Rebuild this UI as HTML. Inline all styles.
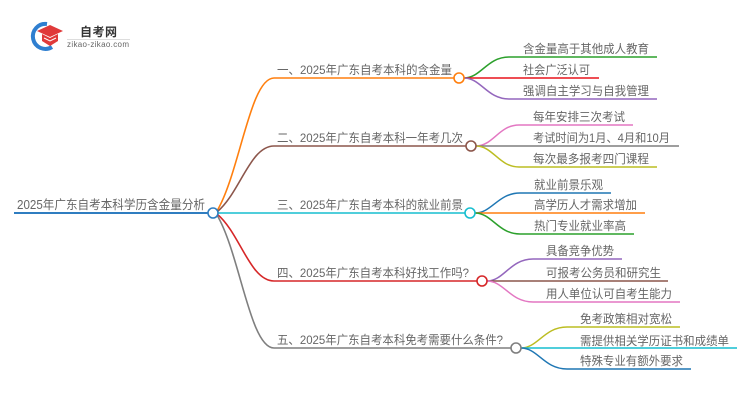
<!DOCTYPE html>
<html>
<head>
<meta charset="utf-8">
<style>
html,body{margin:0;padding:0;background:#fff;}
svg{display:block;}
text{font-family:"Liberation Sans","Noto Sans CJK SC",sans-serif;fill:#666;}
</style>
</head>
<body>
<svg width="750" height="410" viewBox="0 0 750 410" xmlns="http://www.w3.org/2000/svg">
  <!-- logo -->
  <path d="M47,24 A12.5,12.5 0 1 0 52,47" fill="none" stroke="#2f7fd0" stroke-width="4"/>
  <path d="M37,31 L50,25 L63,31 L50,37 Z" fill="#e03a3a"/>
  <path d="M42,34 L50,38 L58,34 L58,41 L50,46 L42,41 Z" fill="#e03a3a"/>
  <path d="M44,38 L50,41 L56,38" fill="none" stroke="#fff" stroke-width="1"/>
  <text x="80" y="36" style="font-size:12px;font-weight:bold;fill:#333;" textLength="37">自考网</text>
  <line x1="67" y1="39.5" x2="130" y2="39.5" stroke="#ddd" stroke-width="1"/>
  <text x="67" y="47" style="font-size:8px;fill:#666;" textLength="62">zikao-zikao.com</text>

  <!-- root underline -->
  <line x1="14" y1="213" x2="208" y2="213" stroke="#2f7dc0" stroke-width="2"/>

  <!-- main branches -->
  <path d="M217,211 C240,172 250,78 274,78 L454,78" fill="none" stroke="#ff7f0e" stroke-width="1.6"/>
  <path d="M217,212 C240,193 250,146 274,146 L466,146" fill="none" stroke="#8c564b" stroke-width="1.6"/>
  <path d="M218,213 L465,213" fill="none" stroke="#17becf" stroke-width="1.6"/>
  <path d="M217,214 C240,233 250,281 274,281 L477,281" fill="none" stroke="#d62728" stroke-width="1.6"/>
  <path d="M217,215 C240,254 250,348 274,348 L511,348" fill="none" stroke="#7f7f7f" stroke-width="1.6"/>

  <!-- leaves B1 -->
  <path d="M464,78 C481,78 487,57 509,57 L657,57" fill="none" stroke="#2ca02c" stroke-width="1.5"/>
  <path d="M464,78 L599,78" fill="none" stroke="#e8141c" stroke-width="1.5"/>
  <path d="M464,78 C481,78 487,99 509,99 L657,99" fill="none" stroke="#9467bd" stroke-width="1.5"/>
  <!-- leaves B2 -->
  <path d="M476,146 C493,146 499,125 519,125 L633,125" fill="none" stroke="#e377c2" stroke-width="1.5"/>
  <path d="M476,146 L679,146" fill="none" stroke="#7f7f7f" stroke-width="1.5"/>
  <path d="M476,146 C493,146 499,167 519,167 L657,167" fill="none" stroke="#bcbd22" stroke-width="1.5"/>
  <!-- leaves B3 -->
  <path d="M475,213 C492,213 498,193 520,193 L611,193" fill="none" stroke="#1f77b4" stroke-width="1.5"/>
  <path d="M475,213 L645,213" fill="none" stroke="#ff7f0e" stroke-width="1.5"/>
  <path d="M475,213 C492,213 498,234 520,234 L634,234" fill="none" stroke="#2ca02c" stroke-width="1.5"/>
  <!-- leaves B4 -->
  <path d="M487,281 C504,281 510,259 533,259 L622,259" fill="none" stroke="#9467bd" stroke-width="1.5"/>
  <path d="M487,281 L668,281" fill="none" stroke="#8c564b" stroke-width="1.5"/>
  <path d="M487,281 C504,281 510,302 533,302 L680,302" fill="none" stroke="#e377c2" stroke-width="1.5"/>
  <!-- leaves B5 -->
  <path d="M521,348 C538,348 544,327 567,327 L680,327" fill="none" stroke="#bcbd22" stroke-width="1.5"/>
  <path d="M521,348 L737,348" fill="none" stroke="#17becf" stroke-width="1.5"/>
  <path d="M521,348 C538,348 544,369 567,369 L691,369" fill="none" stroke="#1f77b4" stroke-width="1.5"/>

  <!-- circles -->
  <circle cx="213" cy="213" r="5" fill="#fff" stroke="#2f7dc0" stroke-width="1.6"/>
  <circle cx="459" cy="78" r="5" fill="#fff" stroke="#ff7f0e" stroke-width="1.6"/>
  <circle cx="471" cy="146" r="5" fill="#fff" stroke="#8c564b" stroke-width="1.6"/>
  <circle cx="470" cy="213" r="5" fill="#fff" stroke="#17becf" stroke-width="1.6"/>
  <circle cx="482" cy="281" r="5" fill="#fff" stroke="#d62728" stroke-width="1.6"/>
  <circle cx="516" cy="348" r="5" fill="#fff" stroke="#7f7f7f" stroke-width="1.6"/>

  <!-- root text -->
  <text x="17" y="209" style="font-size:12.5px;" textLength="188" lengthAdjust="spacingAndGlyphs">2025年广东自考本科学历含金量分析</text>

  <!-- branch texts -->
  <g style="font-size:12px;">
    <text x="277" y="74" textLength="175" lengthAdjust="spacingAndGlyphs">一、2025年广东自考本科的含金量</text>
    <text x="277" y="142" textLength="186" lengthAdjust="spacingAndGlyphs">二、2025年广东自考本科一年考几次</text>
    <text x="277" y="209" textLength="186" lengthAdjust="spacingAndGlyphs">三、2025年广东自考本科的就业前景</text>
    <text x="277" y="277" textLength="192" lengthAdjust="spacingAndGlyphs">四、2025年广东自考本科好找工作吗?</text>
    <text x="277" y="344" textLength="226" lengthAdjust="spacingAndGlyphs">五、2025年广东自考本科免考需要什么条件?</text>

    <text x="523" y="53" textLength="126" lengthAdjust="spacingAndGlyphs">含金量高于其他成人教育</text>
    <text x="523" y="74" textLength="67" lengthAdjust="spacingAndGlyphs">社会广泛认可</text>
    <text x="523" y="95" textLength="126" lengthAdjust="spacingAndGlyphs">强调自主学习与自我管理</text>

    <text x="533" y="121" textLength="92" lengthAdjust="spacingAndGlyphs">每年安排三次考试</text>
    <text x="533" y="142" textLength="137" lengthAdjust="spacingAndGlyphs">考试时间为1月、4月和10月</text>
    <text x="533" y="163" textLength="116" lengthAdjust="spacingAndGlyphs">每次最多报考四门课程</text>

    <text x="534" y="189" textLength="69" lengthAdjust="spacingAndGlyphs">就业前景乐观</text>
    <text x="534" y="209" textLength="103" lengthAdjust="spacingAndGlyphs">高学历人才需求增加</text>
    <text x="534" y="230" textLength="92" lengthAdjust="spacingAndGlyphs">热门专业就业率高</text>

    <text x="546" y="255" textLength="68" lengthAdjust="spacingAndGlyphs">具备竞争优势</text>
    <text x="546" y="277" textLength="115" lengthAdjust="spacingAndGlyphs">可报考公务员和研究生</text>
    <text x="546" y="298" textLength="126" lengthAdjust="spacingAndGlyphs">用人单位认可自考生能力</text>

    <text x="580" y="323" textLength="92" lengthAdjust="spacingAndGlyphs">免考政策相对宽松</text>
    <text x="580" y="345" textLength="149" lengthAdjust="spacingAndGlyphs">需提供相关学历证书和成绩单</text>
    <text x="580" y="365" textLength="103" lengthAdjust="spacingAndGlyphs">特殊专业有额外要求</text>
  </g>
</svg>
</body>
</html>
